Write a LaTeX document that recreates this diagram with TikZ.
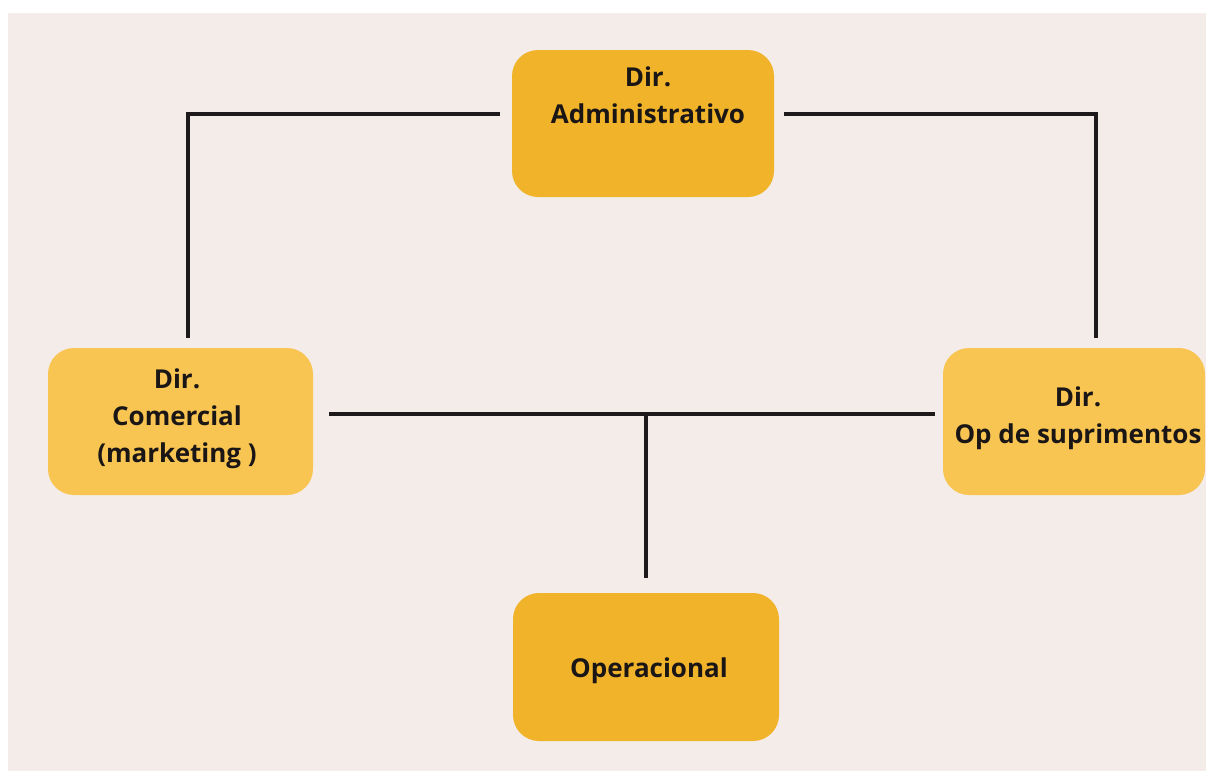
\documentclass[tikz,border=0pt]{standalone}
\usepackage{fontspec}
\setmainfont{Open Sans}
\definecolor{bgbeige}{RGB}{244,236,232}
\definecolor{golddark}{RGB}{240,179,42}
\definecolor{goldlight}{RGB}{249,197,82}
\definecolor{linecol}{RGB}{30,26,27}
\definecolor{txt}{RGB}{26,22,22}
\tikzset{
  box/.style={rectangle, rounded corners=26pt, inner sep=0pt, draw=none},
  boxdark/.style={box, fill=golddark},
  boxlight/.style={box, fill=goldlight},
  label/.style={font=\bfseries\fontsize{26}{37}\selectfont, text=txt, align=center, inner sep=0pt, anchor=base},
  conn/.style={draw=linecol, line width=4pt}
}
\begin{document}
\begin{tikzpicture}[x=1pt,y=-1pt]
\useasboundingbox (0,0) rectangle (1206,771);
\fill[white] (0,0) rectangle (1206,771);
\fill[bgbeige] (8,13) rectangle (1206,771);
% boxes
\node[boxdark, minimum width=262pt, minimum height=147pt] (adm) at (643,123.5) {};
\node[boxlight, minimum width=265pt, minimum height=147pt] (com) at (180.5,421.5) {};
\node[boxlight, minimum width=262pt, minimum height=147pt] (sup) at (1074,421.5) {};
\node[boxdark, minimum width=266pt, minimum height=148pt] (ope) at (646,667) {};
% texts (anchor = baseline of last line)
\node[label] (admt) at (648,123) {Dir.\\Administrativo};
\node[label] (comt) at (177,462) {Dir.\\Comercial\\(marketing )};
\node[label] (supt) at (1078,443) {Dir.\\Op de suprimentos};
\node[label] (opet) at (649,677) {Operacional};
% connector end points
\coordinate (a1) at (500,114);
\coordinate (c1) at (188,338);
\coordinate (a2) at (784,114);
\coordinate (s1) at (1096,338);
\coordinate (c2) at (329,414);
\coordinate (s2) at (935,414);
\coordinate (m) at (646,414);
\coordinate (o1) at (646,578);
\draw[conn] (a1) -| (c1);
\draw[conn] (a2) -| (s1);
\draw[conn] (c2) -- (s2);
\draw[conn] (m) -- (o1);
\end{tikzpicture}
\end{document}
